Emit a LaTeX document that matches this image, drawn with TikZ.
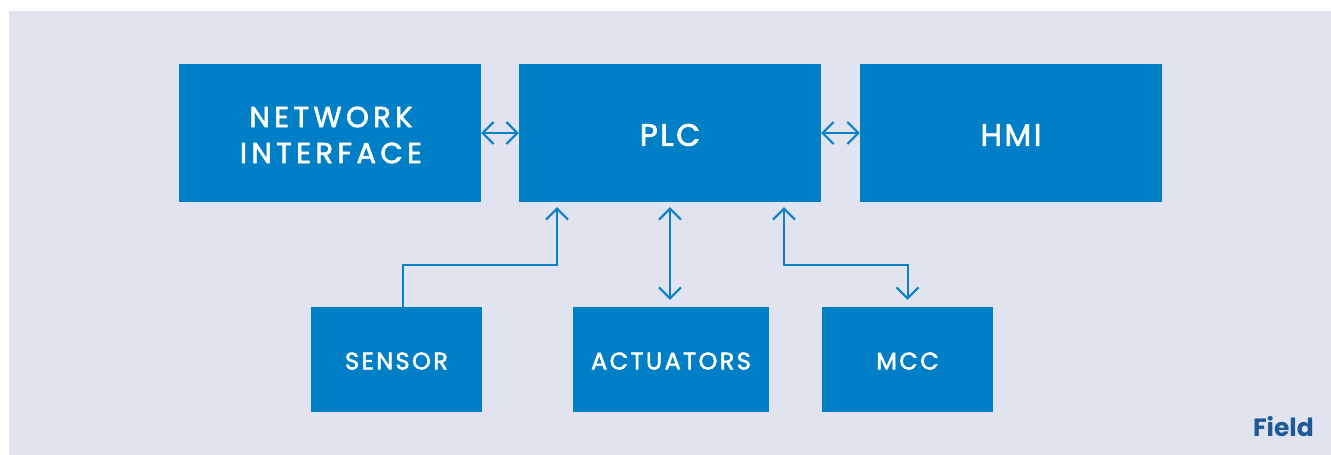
\documentclass[tikz,border=0pt]{standalone}
\usepackage{fontspec}
\setmainfont{Poppins}
\newfontfamily\boxfont[LetterSpace=8, FakeBold=2]{Poppins}
\newfontfamily\netfont[LetterSpace=15, FakeBold=2]{Poppins}
\newfontfamily\smallfont[LetterSpace=10, FakeBold=2]{Poppins}
\usetikzlibrary{arrows.meta}
\definecolor{bgc}{HTML}{E1E3EF}
\definecolor{boxc}{HTML}{007EC6}
\definecolor{arrc}{HTML}{0A80C8}
\definecolor{fieldc}{HTML}{1D5A96}
\tikzset{
  blk/.style={fill=boxc, draw=none, inner sep=0pt, text=white, align=center},
  bigblk/.style={blk, minimum width=302pt, minimum height=138pt},
  smallblk/.style={blk, minimum height=105pt},
  bigtxt/.style={text=white, align=center, inner sep=0pt, font=\boxfont\fontsize{31}{36}\selectfont},
  smalltxt/.style={text=white, inner sep=0pt, font=\smallfont\fontsize{24}{28}\selectfont},
  conn/.style={draw=arrc, line width=2pt, -{Straight Barb[length=11pt,width=22pt]}},
  conn2/.style={draw=arrc, line width=2pt, {Straight Barb[length=11pt,width=22pt]}-{Straight Barb[length=11pt,width=22pt]}}
}
\begin{document}
\begin{tikzpicture}[x=1pt,y=-1pt]
\useasboundingbox (0,0) rectangle (1331,455);
\fill[bgc] (9,11) rectangle (1331,455);
\node[bigblk] (ni) at (330,133) {};
\node[bigblk] (plc) at (670,133) {};
\node[bigblk] (hmi) at (1011,133) {};
\node[bigtxt, font=\netfont\fontsize{29}{36}\selectfont] (nit) at (331,135) {NETWORK\\INTERFACE};
\node[bigtxt] (plct) at (670,135) {PLC};
\node[bigtxt] (hmit) at (1011,135) {HMI};
\node[smallblk, minimum width=171pt] (sensor) at (396.5,359.5) {};
\node[smallblk, minimum width=196pt] (act) at (671,359.5) {};
\node[smallblk, minimum width=171pt] (mcc) at (907.5,359.5) {};
\node[smalltxt] (sensort) at (396.5,361) {SENSOR};
\node[smalltxt] (actt) at (671,361) {ACTUATORS};
\node[smalltxt] (mcct) at (907.5,361) {MCC};
\node[anchor=base east, text=fieldc, inner sep=0pt, font=\bfseries\fontsize{25}{30}\selectfont] (field) at (1314,436) {Field};
\coordinate (sturn) at (557,265);
\coordinate (mturn) at (907.5,265);
\draw[conn2] (ni.east) -- (plc.west);
\draw[conn2] (plc.east) -- (hmi.west);
\draw[conn, shorten >=5pt] ([xshift=6.5pt]sensor.north) |- (sturn) -- (sturn |- plc.south);
\draw[conn2, shorten <=5pt, shorten >=7pt] (plc.south) -- (plc.south |- act.north);
\draw[conn2, shorten <=5pt, shorten >=7pt] ([xshift=114pt]plc.south) |- (mturn) -- (mcc.north);
\end{tikzpicture}
\end{document}
